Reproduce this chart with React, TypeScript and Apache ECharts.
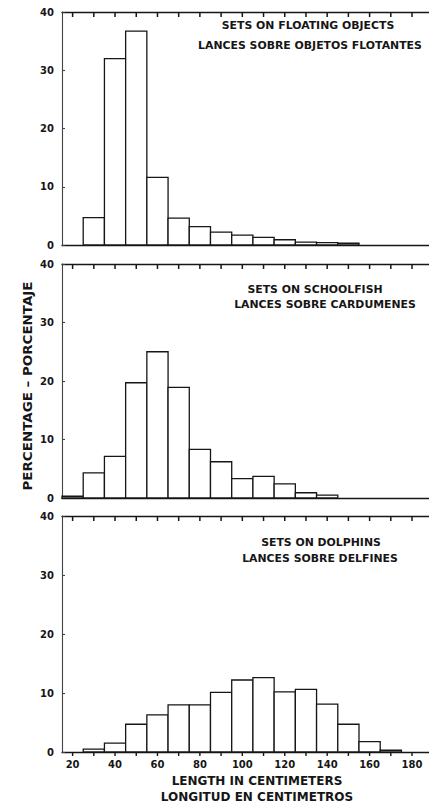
import React, { useEffect, useRef } from "react";
import * as echarts from "echarts";

const BIN_WIDTH = 10;
const X_MIN = 15;
const X_MAX = 188;
const Y_MAX = 40;

const floatingStarts = [25, 35, 45, 55, 65, 75, 85, 95, 105, 115, 125, 135, 145];
const floatingPct = [4.7, 32.0, 36.7, 11.6, 4.6, 3.15, 2.2, 1.7, 1.3, 0.9, 0.5, 0.4, 0.3];

const schoolStarts = [15, 25, 35, 45, 55, 65, 75, 85, 95, 105, 115, 125, 135];
const schoolPct = [0.3, 4.3, 7.1, 19.7, 25.0, 18.9, 8.3, 6.2, 3.3, 3.7, 2.4, 0.9, 0.5];

const dolphinStarts = [25, 35, 45, 55, 65, 75, 85, 95, 105, 115, 125, 135, 145, 155, 165];
const dolphinPct = [0.5, 1.5, 4.7, 6.3, 8.0, 8.0, 10.1, 12.2, 12.6, 10.2, 10.6, 8.1, 4.7, 1.75, 0.3];

const xLabelValues = [20, 40, 60, 80, 100, 120, 140, 160, 180];
const xTickValues = [20, 30, 40, 50, 60, 70, 80, 90, 100, 110, 120, 130, 140, 150, 160, 170, 180];

const panelTitles = [
  ["SETS ON FLOATING OBJECTS", "LANCES SOBRE OBJETOS FLOTANTES"],
  ["SETS ON SCHOOLFISH", "LANCES SOBRE CARDUMENES"],
  ["SETS ON DOLPHINS", "LANCES SOBRE DELFINES"],
];
const yAxisTitle = "PERCENTAGE – PORCENTAJE";
const xAxisTitles = ["LENGTH IN CENTIMETERS", "LONGITUD EN CENTIMETROS"];

const FONT = "DejaVu Sans";
const INK = "#161616";

export default function App() {
  const ref = useRef<HTMLDivElement>(null);
  useEffect(() => {
    if (!ref.current) return;
    const chart = echarts.init(ref.current, null, { renderer: "svg" });

    const grids = [
      { left: 62, top: 12, width: 367, height: 233 },
      { left: 62, top: 264, width: 367, height: 234 },
      { left: 62, top: 516, width: 367, height: 236 },
    ];
    const panels = [
      { starts: floatingStarts, vals: floatingPct },
      { starts: schoolStarts, vals: schoolPct },
      { starts: dolphinStarts, vals: dolphinPct },
    ];
    const titlePos = [
      [[308, 25], [310, 45]],
      [[315, 289], [325, 304]],
      [[321, 542], [320, 558]],
    ];

    const xAxes: any[] = [];
    const yAxes: any[] = [];
    grids.forEach((_, i) => {
      const isLast = i === 2;
      xAxes.push({
        type: "value",
        gridIndex: i,
        position: "bottom",
        min: X_MIN,
        max: X_MAX,
        axisLine: { show: true, lineStyle: { color: INK, width: 1.3 } },
        axisTick: { show: false },
        axisLabel: {
          show: isLast,
          customValues: xLabelValues,
          margin: 7,
          fontFamily: FONT,
          fontWeight: "bold",
          fontSize: 10,
          color: INK,
        },
        splitLine: { show: false },
      });
      xAxes.push({
        type: "value",
        gridIndex: i,
        position: "top",
        min: X_MIN,
        max: X_MAX,
        axisLine: { show: true, lineStyle: { color: INK, width: 1.4 } },
        axisTick: { show: false },
        axisLabel: { show: false },
        splitLine: { show: false },
      });
      yAxes.push({
        type: "value",
        gridIndex: i,
        min: 0,
        max: Y_MAX,
        interval: 10,
        axisLine: { show: true, lineStyle: { color: "#444", width: 1.1 } },
        axisTick: { show: true, inside: true, length: 3, lineStyle: { color: "#444", width: 1.1 } },
        axisLabel: {
          margin: 8,
          fontFamily: FONT,
          fontWeight: "bold",
          fontSize: 10,
          color: INK,
        },
        splitLine: { show: false },
      });
    });

    const series: any[] = panels.map((p, i) => ({
      type: "custom",
      xAxisIndex: 2 * i,
      yAxisIndex: i,
      data: p.starts.map((s, k) => [s, s + BIN_WIDTH, p.vals[k]]),
      encode: { x: [0, 1], y: 2 },
      renderItem: (params: any, api: any) => {
        const x0 = api.value(0);
        const x1 = api.value(1);
        const v = api.value(2);
        const a = api.coord([x0, v]);
        const b = api.coord([x1, 0]);
        return {
          type: "rect",
          shape: { x: a[0], y: a[1], width: b[0] - a[0], height: b[1] - a[1] },
          style: { fill: "#fff", stroke: INK, lineWidth: 1.3 },
        };
      },
    }));

    // tick marks hanging down from the top frame of each panel
    grids.forEach((_, i) => {
      series.push({
        type: "custom",
        xAxisIndex: 2 * i,
        yAxisIndex: i,
        z: 5,
        silent: true,
        data: xTickValues.map((v) => [v, Y_MAX]),
        encode: { x: 0, y: 1 },
        renderItem: (params: any, api: any) => {
          const p = api.coord([api.value(0), api.value(1)]);
          return {
            type: "line",
            shape: { x1: p[0], y1: p[1], x2: p[0], y2: p[1] + 5 },
            style: { stroke: INK, lineWidth: 1.5 },
          };
        },
      });
    });
    // tick marks under the bottom axis of the last panel
    series.push({
      type: "custom",
      xAxisIndex: 4,
      yAxisIndex: 2,
      z: 5,
      silent: true,
      data: xTickValues.map((v) => [v, 0]),
      encode: { x: 0, y: 1 },
      renderItem: (params: any, api: any) => {
        const p = api.coord([api.value(0), api.value(1)]);
        return {
          type: "line",
          shape: { x1: p[0], y1: p[1], x2: p[0], y2: p[1] + 4 },
          style: { stroke: INK, lineWidth: 1.4 },
        };
      },
    });

    const graphics: any[] = [];
    panelTitles.forEach((lines, i) => {
      lines.forEach((t, j) => {
        graphics.push({
          type: "text",
          x: titlePos[i][j][0],
          y: titlePos[i][j][1],
          scaleX: 1.09,
          style: {
            text: t,
            textAlign: "center",
            textVerticalAlign: "middle",
            fontFamily: FONT,
            fontWeight: "bold",
            fontSize: 10,
            fill: INK,
          },
        });
      });
    });
    graphics.push({
      type: "text",
      x: 27.5,
      y: 386,
      rotation: Math.PI / 2,
      scaleX: 1.12,
      style: {
        text: yAxisTitle,
        textAlign: "center",
        textVerticalAlign: "middle",
        fontFamily: FONT,
        fontWeight: "bold",
        fontSize: 12,
        fill: INK,
      },
    });
    xAxisTitles.forEach((t, j) => {
      graphics.push({
        type: "text",
        x: 257,
        y: j === 0 ? 781 : 797,
        style: {
          text: t,
          textAlign: "center",
          textVerticalAlign: "middle",
          fontFamily: FONT,
          fontWeight: "bold",
          fontSize: 12,
          fill: INK,
        },
      });
    });

    chart.setOption({
      animation: false,
      backgroundColor: "#fff",
      grid: grids,
      xAxis: xAxes,
      yAxis: yAxes,
      series,
      graphic: graphics,
    });
    return () => chart.dispose();
  }, []);

  return (
    <div
      ref={ref}
      style={{ position: "fixed", left: 0, top: 0, width: 429, height: 805, background: "#fff" }}
    />
  );
}
